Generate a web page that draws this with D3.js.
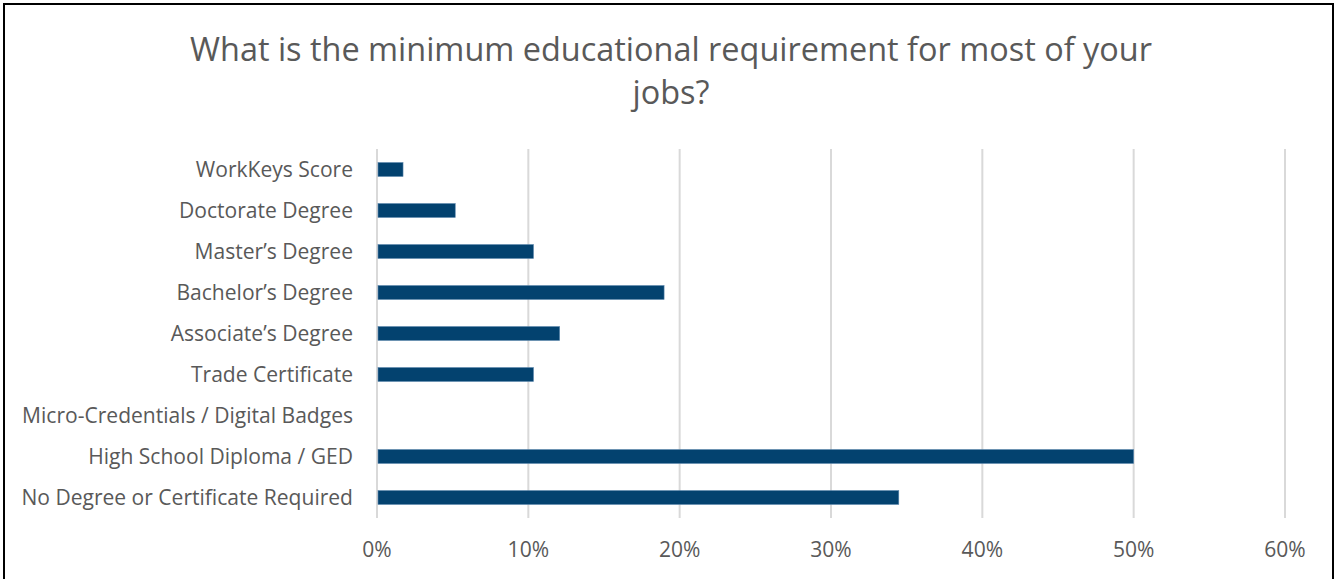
<!DOCTYPE html>
<html>
<head>
<meta charset="utf-8">
<script src="https://cdn.jsdelivr.net/npm/d3@7"></script>
<style>
  html, body { margin: 0; padding: 0; background: #fff; }
  svg { display: block; }
</style>
</head>
<body>
<svg id="chart" width="1336" height="579"></svg>
<script>
const titleLines = ["What is the minimum educational requirement for most of your", "jobs?"];
const categories = [
  "WorkKeys Score",
  "Doctorate Degree",
  "Master\u2019s Degree",
  "Bachelor\u2019s Degree",
  "Associate\u2019s Degree",
  "Trade Certificate",
  "Micro-Credentials / Digital Badges",
  "High School Diploma / GED",
  "No Degree or Certificate Required"
];
const values = [0.0172, 0.0517, 0.1034, 0.1897, 0.1207, 0.1034, 0, 0.5, 0.3448];
const xTicks = [0, 0.1, 0.2, 0.3, 0.4, 0.5, 0.6];

const FONT = "'Open Sans', 'Liberation Sans', sans-serif";
const TEXT = "#595959";
const svg = d3.select("#chart");

svg.append("rect").attr("x", 4).attr("y", 4).attr("width", 1329).attr("height", 580)
  .attr("fill", "#fff").attr("stroke", "#000").attr("stroke-width", 2);

function fitSize(str, targetWidth) {
  const t = svg.append("text").attr("font-family", FONT).attr("font-size", 100).text(str);
  const w = t.node().getComputedTextLength();
  t.remove();
  return 100 * targetWidth / w;
}

const x = d3.scaleLinear().domain([0, 0.6]).range([377, 1285]);
const y = d3.scaleBand().domain(categories).range([149, 518]).paddingInner(0.66).paddingOuter(0.33);

// Gridlines
svg.append("g").selectAll("line").data(xTicks).join("line")
  .attr("x1", d => x(d)).attr("x2", d => x(d))
  .attr("y1", 149).attr("y2", 518)
  .attr("stroke", "#d9d9d9").attr("stroke-width", 2);

// Bars
svg.append("g").selectAll("rect").data(categories).join("rect")
  .attr("x", x(0) + 1)
  .attr("y", d => y(d))
  .attr("width", (d, i) => Math.max(0, x(values[i]) - x(0) - 1))
  .attr("height", y.bandwidth())
  .attr("fill", "#03426F")
  .attr("stroke", "#5b86ad").attr("stroke-width", values => 0.6)
  .attr("stroke-opacity", (d, i) => values[i] > 0 ? 1 : 0);

// Category labels
const labelSize = fitSize("Micro-Credentials / Digital Badges", 331);
svg.append("g").selectAll("text").data(categories).join("text")
  .attr("x", 353)
  .attr("y", d => y(d) + y.bandwidth() / 2)
  .attr("dy", "0.35em")
  .attr("text-anchor", "end")
  .attr("font-family", FONT).attr("font-size", labelSize)
  .attr("fill", TEXT)
  .text(d => d);

// X axis tick labels
const tickSize = labelSize;
svg.append("g").selectAll("text").data(xTicks).join("text")
  .attr("x", d => x(d))
  .attr("y", 557)
  .attr("text-anchor", "middle")
  .attr("font-family", FONT).attr("font-size", tickSize)
  .attr("fill", TEXT)
  .text(d => d3.format(".0%")(d));

// Title
const titleSize = fitSize(titleLines[0], 962);
svg.append("g").selectAll("text").data(titleLines).join("text")
  .attr("x", 671)
  .attr("y", (d, i) => 61 + i * 43)
  .attr("text-anchor", "middle")
  .attr("font-family", FONT).attr("font-size", titleSize)
  .attr("fill", TEXT)
  .text(d => d);
</script>
</body>
</html>
